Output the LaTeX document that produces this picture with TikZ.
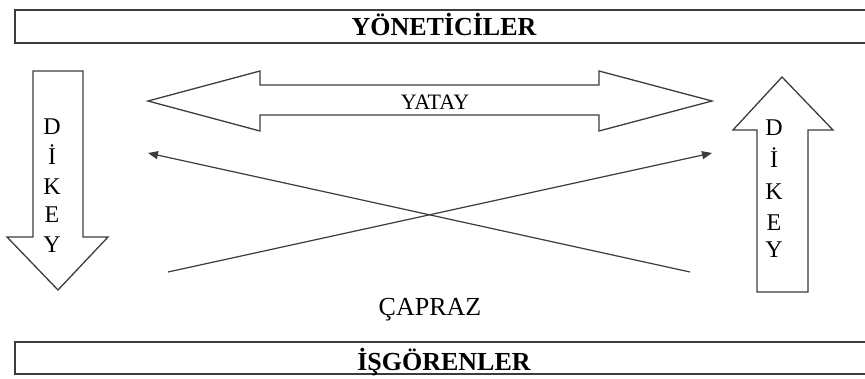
\documentclass[tikz,border=0pt]{standalone}
\usepackage{fontspec}
\setmainfont{Liberation Serif}
\usetikzlibrary{arrows.meta}
\definecolor{edge}{HTML}{3C3C3C}
\tikzset{
  bandbox/.style={draw=edge, line width=1.8pt},
  bigarrow/.style={draw=edge, line width=1.3pt, fill=white, line join=miter},
  bandtext/.style={font=\fontsize{26}{26}\selectfont\bfseries, inner sep=0pt, anchor=base},
  plaintext/.style={inner sep=0pt, anchor=base},
  letter/.style={font=\fontsize{24}{24}\selectfont, inner sep=0pt, anchor=base},
  crossline/.style={draw=edge, line width=1.2pt},
  crosstip/.style={-{Stealth[length=10pt,width=8pt,inset=0pt]}}
}
\begin{document}
\begin{tikzpicture}[x=1pt,y=-1pt]
\useasboundingbox (0,0) rectangle (865,378);
% top and bottom bands
\draw[bandbox] (15,10) rectangle (870,43);
\node[bandtext] (top) at (444,35) {YÖNETİCİLER};
\draw[bandbox] (15,342) rectangle (870,374);
\node[bandtext] (bottom) at (444,370) {İŞGÖRENLER};
% left down arrow
\draw[bigarrow] (33,71) -- (83,71) -- (83,237) -- (108,237) -- (58,290) -- (7,237) -- (33,237) -- cycle;
\foreach \ch/\yy [count=\i] in {D/134,İ/164,K/194,E/222,Y/252}
  \node[letter] (ld\i) at (52,\yy) {\ch};
% right up arrow
\draw[bigarrow] (757,292) -- (808,292) -- (808,130) -- (833,130) -- (782,77) -- (733,130) -- (757,130) -- cycle;
\foreach \ch/\yy [count=\i] in {D/135,İ/167,K/199,E/230,Y/257}
  \node[letter] (rd\i) at (774,\yy) {\ch};
% horizontal double arrow
\draw[bigarrow] (148,101) -- (260,71) -- (260,85) -- (599,85) -- (599,71) -- (712,101) -- (599,131) -- (599,115) -- (260,115) -- (260,131) -- cycle;
\node[plaintext, font=\fontsize{22}{22}\selectfont] (yatay) at (435,109) {YATAY};
% cross lines
\coordinate (a1) at (690,272);
\coordinate (a2) at (148,153);
\coordinate (b1) at (168,272);
\coordinate (b2) at (712,153);
\draw[crossline, crosstip] (a1) -- (a2);
\draw[crossline, crosstip] (b1) -- (b2);
\node[plaintext, font=\fontsize{26}{26}\selectfont] (capraz) at (430,315) {ÇAPRAZ};
\end{tikzpicture}
\end{document}
